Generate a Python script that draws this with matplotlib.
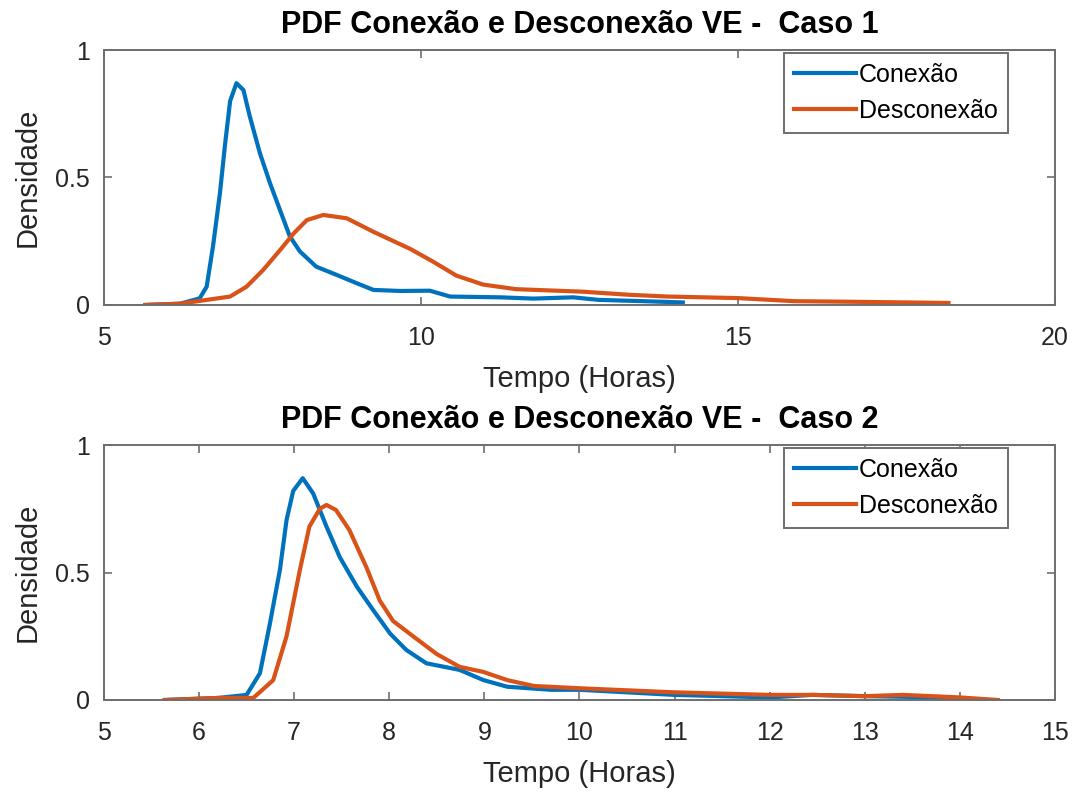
import matplotlib
matplotlib.use('Agg')
import matplotlib.pyplot as plt

plt.rcParams['font.family'] = ['Liberation Sans', 'DejaVu Sans']

# Caso 1 - curvas
t1_con = [5.65, 6.2, 6.51, 6.62, 6.72, 6.83, 6.91, 6.99, 7.09, 7.2, 7.3, 7.46, 7.62, 7.78,
          7.93, 8.09, 8.35, 8.67, 8.99, 9.25, 9.67, 10.14, 10.46, 11.25, 11.77, 12.4,
          12.8, 13.5, 14.13]
d1_con = [0.0, 0.005, 0.026, 0.072, 0.23, 0.44, 0.63, 0.80, 0.87, 0.843, 0.74, 0.595, 0.477,
          0.37, 0.27, 0.21, 0.15, 0.118, 0.085, 0.059, 0.055, 0.056, 0.033, 0.03, 0.025,
          0.03, 0.02, 0.015, 0.01]
t1_des = [5.65, 6.2, 6.99, 7.25, 7.51, 7.78, 7.99, 8.2, 8.46, 8.83, 9.25, 9.83, 10.19,
          10.56, 10.98, 11.5, 12.03, 12.56, 13.28, 13.9, 15.0, 15.88, 17.0, 18.32]
d1_des = [0.0, 0.005, 0.033, 0.072, 0.137, 0.216, 0.28, 0.333, 0.353, 0.34, 0.287, 0.22,
          0.17, 0.115, 0.08, 0.062, 0.057, 0.052, 0.04, 0.033, 0.027, 0.015, 0.012, 0.008]

# Caso 2
t2_con = [5.64, 6.2, 6.5, 6.64, 6.74, 6.85, 6.92, 6.99, 7.09, 7.2, 7.34, 7.48, 7.66, 7.83,
          8.01, 8.18, 8.39, 8.74, 8.99, 9.24, 9.7, 10.0, 10.5, 11.0, 11.5, 12.0, 12.45,
          13.0, 13.5, 14.0]
d2_con = [0.0, 0.008, 0.02, 0.105, 0.29, 0.51, 0.706, 0.82, 0.87, 0.81, 0.68, 0.56, 0.444,
          0.353, 0.26, 0.196, 0.144, 0.118, 0.078, 0.052, 0.04, 0.04, 0.03, 0.02, 0.015,
          0.01, 0.02, 0.015, 0.012, 0.005]
t2_des = [5.64, 6.2, 6.57, 6.78, 6.92, 7.06, 7.16, 7.27, 7.34, 7.44, 7.58, 7.76, 7.9, 8.04,
          8.25, 8.5, 8.74, 8.99, 9.24, 9.52, 10.0, 10.5, 11.0, 11.5, 12.0, 12.45, 13.0,
          13.4, 14.0, 14.4]
d2_des = [0.0, 0.008, 0.008, 0.078, 0.25, 0.51, 0.68, 0.75, 0.765, 0.745, 0.667, 0.52, 0.39,
          0.31, 0.25, 0.18, 0.13, 0.11, 0.078, 0.055, 0.046, 0.038, 0.03, 0.025, 0.02, 0.02,
          0.015, 0.02, 0.01, 0.0]

azul = '#0072BD'
laranja = '#D95319'
cinza = '#6e6e6e'
texto = '#262626'

fig = plt.figure(figsize=(10.75, 7.94), dpi=100)
ax1 = fig.add_axes([0.0967, 0.6159, 0.8847, 0.3211])
ax2 = fig.add_axes([0.0967, 0.1184, 0.8847, 0.3211])


def estilo(ax, titulo, xlim, xticks):
    ax.set_xlim(*xlim)
    ax.set_ylim(0, 1)
    ax.set_xticks(xticks)
    ax.set_yticks([0, 0.5, 1])
    ax.set_yticklabels(['0', '0.5', '1'])
    ax.tick_params(axis='x', pad=15)
    ax.tick_params(axis='y', pad=10)
    ax.tick_params(direction='in', top=True, right=True, length=6, width=1.2,
                   colors=cinza, labelcolor=texto, labelsize=18)
    for s in ax.spines.values():
        s.set_color(cinza)
        s.set_linewidth(1.4)
    ax.set_title(titulo, fontsize=22, fontweight='bold', pad=12)
    ax.set_xlabel('Tempo (Horas)', fontsize=21, color=texto, labelpad=11)
    ax.set_ylabel('Densidade', fontsize=21, color=texto, labelpad=10)
    leg = ax.legend(loc='upper right', bbox_to_anchor=(0.953, 1.0), fontsize=18,
                    fancybox=False, framealpha=1, edgecolor=cinza, handlelength=2.5,
                    handletextpad=0.1, borderpad=0.4, labelspacing=0.5, borderaxespad=0.1)
    leg.get_frame().set_linewidth(1.4)


ax1.plot(t1_con, d1_con, color=azul, lw=3, label='Conexão')
ax1.plot(t1_des, d1_des, color=laranja, lw=3, label='Desconexão')
estilo(ax1, 'PDF Conexão e Desconexão VE -  Caso 1', (5, 20), [5, 10, 15, 20])

ax2.plot(t2_con, d2_con, color=azul, lw=3, label='Conexão')
ax2.plot(t2_des, d2_des, color=laranja, lw=3, label='Desconexão')
estilo(ax2, 'PDF Conexão e Desconexão VE -  Caso 2', (5, 15), list(range(5, 16)))

plt.savefig('out.png', dpi=100)
